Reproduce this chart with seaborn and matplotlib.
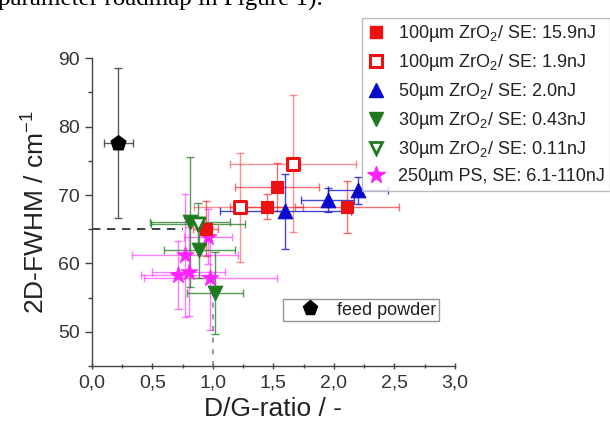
import matplotlib
matplotlib.use("Agg")
import matplotlib.pyplot as plt
import seaborn as sns
import numpy as np
import pandas as pd
from matplotlib.lines import Line2D
from matplotlib.ticker import MultipleLocator, FuncFormatter

# ---- data ----
feed_x = [0.22]; feed_y = [77.6]; feed_xerr = [0.12]; feed_yerr = [11.0]

r_fill_x = [0.94, 1.445, 1.53, 2.11]
r_fill_y = [65.1, 68.3, 71.2, 68.3]
r_fill_xerr = [0.10, 0.30, 0.35, 0.43]
r_fill_yerr = [4.0, 1.8, 3.5, 3.8]

r_open_x = [1.225, 1.665]
r_open_y = [68.2, 74.6]
r_open_xerr = [0.38, 0.52]
r_open_yerr = [8.0, 10.0]

b_x = [1.60, 1.95, 2.20]
b_y = [67.6, 69.25, 70.7]
b_xerr = [0.54, 0.22, 0.25]
b_yerr = [5.5, 1.8, 2.0]

g_fill_x = [0.81, 0.89, 1.02]
g_fill_y = [66.0, 61.9, 55.7]
g_fill_xerr = [0.33, 0.29, 0.23]
g_fill_yerr = [9.5, 4.0, 6.0]

g_open_x = [0.88]
g_open_y = [65.8]
g_open_xerr = [0.39]
g_open_yerr = [3.0]

m_x = [0.77, 0.80, 0.71, 0.98, 0.96]
m_y = [61.2, 58.8, 58.3, 57.8, 63.9]
m_xerr = [0.44, 0.30, 0.30, 0.55, 0.20]
m_yerr = [9.0, 6.5, 5.0, 7.5, 4.0]

labels = [
    "100µm ZrO$_2$/ SE: 15.9nJ",
    "100µm ZrO$_2$/ SE: 1.9nJ",
    "50µm ZrO$_2$/ SE: 2.0nJ",
    "30µm ZrO$_2$/ SE: 0.43nJ",
    "30µm ZrO$_2$/ SE: 0.11nJ",
    "250µm PS, SE: 6.1-110nJ",
]
xticks = [0.0, 0.5, 1.0, 1.5, 2.0, 2.5, 3.0]
yticks = [50, 60, 70, 80, 90]

# ---- style ----
sns.set_theme(style="ticks")
plt.rcParams['font.family'] = ['Liberation Sans', 'DejaVu Sans']
plt.rcParams['mathtext.fontset'] = 'custom'
plt.rcParams['mathtext.rm'] = 'Liberation Sans'
plt.rcParams['mathtext.it'] = 'Liberation Sans:italic'
plt.rcParams['mathtext.bf'] = 'Liberation Sans:bold'

RED = '#ee1111'
BLUE = '#0a0acc'
GREEN = '#1f7a1f'
MAG = '#ff22ff'

fig = plt.figure(figsize=(6.10, 4.32), dpi=100)
fig.patch.set_facecolor('white')
ax = fig.add_axes([91.7/610, 1-366/432, 363.3/610, (366-58.3)/432])

def eb(x, y, xe, ye, c, a=0.75):
    ax.errorbar(x, y, xerr=xe, yerr=ye, fmt='none', ecolor=c, elinewidth=1.0,
                capsize=3, capthick=1.0, alpha=a, zorder=2)

eb(feed_x, feed_y, feed_xerr, feed_yerr, '#333333', 0.8)
eb(m_x, m_y, m_xerr, m_yerr, MAG, 0.6)
eb(r_fill_x, r_fill_y, r_fill_xerr, r_fill_yerr, RED, 0.6)
eb(r_open_x, r_open_y, r_open_xerr, r_open_yerr, RED, 0.45)
eb(b_x, b_y, b_xerr, b_yerr, BLUE, 0.75)
eb(g_fill_x, g_fill_y, g_fill_xerr, g_fill_yerr, GREEN, 0.75)
eb(g_open_x, g_open_y, g_open_xerr, g_open_yerr, GREEN, 0.75)

# dashed guide lines
ax.plot([0.0, 0.75], [65, 65], ls=(0, (5, 4)), color='#222222', lw=1.2, zorder=1)
ax.plot([1.0, 1.0], [45, 56], ls=(0, (3, 4)), color='#888888', lw=1.2, zorder=1)

def sc(x, y, marker, s, face, edge, lw=1.0):
    sns.scatterplot(x=x, y=y, marker=marker, s=s, color=face, edgecolor=edge,
                    linewidth=lw, ax=ax, zorder=5, legend=False)

sc(m_x, m_y, '*', 170, MAG, MAG, 0.5)
sc(r_open_x, r_open_y, 's', 70, 'white', RED, 2.2)
sc(r_fill_x, r_fill_y, 's', 80, RED, RED, 0.8)
sc(b_x, b_y, '^', 110, BLUE, BLUE, 0.8)
sc(g_fill_x, g_fill_y, 'v', 110, GREEN, GREEN, 0.8)
sc(g_open_x, g_open_y, 'v', 90, 'white', GREEN, 2.0)
sc(feed_x, feed_y, 'p', 130, 'black', 'black', 0.8)

ax.set_xlim(0, 3.0)
ax.set_ylim(45, 90)
ax.set_xticks(xticks)
ax.set_yticks(yticks)
ax.xaxis.set_minor_locator(MultipleLocator(0.25))
ax.yaxis.set_minor_locator(MultipleLocator(5))
ax.xaxis.set_major_formatter(FuncFormatter(lambda v, p: f"{v:.1f}".replace('.', ',')))
ax.yaxis.set_major_formatter(FuncFormatter(lambda v, p: f"{v:.0f}"))
for s in ['top', 'right']:
    ax.spines[s].set_visible(False)
for s in ['left', 'bottom']:
    ax.spines[s].set_color('#444444')
    ax.spines[s].set_linewidth(1.0)
ax.tick_params(axis='both', which='major', labelsize=14, colors='#444444',
               labelcolor='#333333', length=5, width=1.0)
ax.tick_params(axis='both', which='minor', colors='#444444', length=3, width=1.0)
ax.tick_params(axis='x', which='both', direction='inout')
ax.tick_params(axis='y', which='both', direction='out')
ax.set_xlabel("D/G-ratio / -", fontsize=19, color='#222222', labelpad=4)
ax.set_ylabel("2D-FWHM / cm$^{-1}$", fontsize=19, color='#222222', labelpad=6)
ax.grid(False)

# main legend
handles = [
    Line2D([], [], ls='none', marker='s', ms=9, mfc=RED, mec=RED),
    Line2D([], [], ls='none', marker='s', ms=8, mfc='white', mec=RED, mew=2.2),
    Line2D([], [], ls='none', marker='^', ms=10, mfc=BLUE, mec=BLUE),
    Line2D([], [], ls='none', marker='v', ms=10, mfc=GREEN, mec=GREEN),
    Line2D([], [], ls='none', marker='v', ms=9, mfc='white', mec=GREEN, mew=2.0),
    Line2D([], [], ls='none', marker='*', ms=13, mfc=MAG, mec=MAG),
]
leg = fig.legend(handles, labels, loc='upper left', bbox_to_anchor=(362/610, 1-18/432),
                 fontsize=13, frameon=True, fancybox=False, handlelength=1.0,
                 handletextpad=0.7, labelspacing=0.44, borderpad=0.3, borderaxespad=0)
leg.get_frame().set_edgecolor('#aaaaaa')
leg.get_frame().set_linewidth(1.0)
for t in leg.get_texts():
    t.set_color('#222222')

# feed powder legend
fh = [Line2D([], [], ls='none', marker='p', ms=11, mfc='black', mec='black')]
leg2 = ax.legend(fh, ["feed powder"], loc='upper left', bbox_to_anchor=(0.527, 0.218),
                 fontsize=13, frameon=True, fancybox=False, handlelength=2.7,
                 handletextpad=0.15, borderpad=0.15, borderaxespad=0)
leg2.get_frame().set_edgecolor('#777777')
leg2.get_frame().set_linewidth(1.0)
for t in leg2.get_texts():
    t.set_color('#222222')

# cropped caption text from the source document
fig.text(-0.003, 1 - 6/432, "parameter roadmap in Figure 1).", fontsize=18,
         family=['Liberation Serif', 'DejaVu Serif'], va='baseline', ha='left', color='black')

fig.savefig("out.png", dpi=100, facecolor='white')
